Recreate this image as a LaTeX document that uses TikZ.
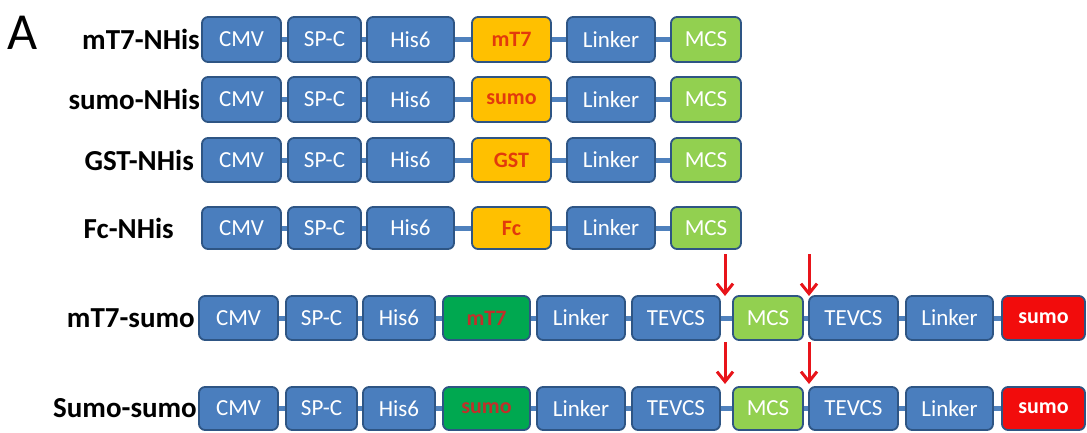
\documentclass[tikz,border=0pt]{standalone}
\usepackage{fontspec}
\setmainfont{Carlito}
\definecolor{bfill}{HTML}{4A7EBE}
\definecolor{bdraw}{HTML}{2E5584}
\definecolor{conn}{HTML}{4F81BD}
\definecolor{ofill}{HTML}{FFC000}
\definecolor{otext}{HTML}{E23A0C}
\definecolor{gfill}{HTML}{92D050}
\definecolor{dgfill}{HTML}{00A850}
\definecolor{dgtext}{HTML}{C0302A}
\definecolor{rfill}{HTML}{F20C0C}
\definecolor{arr}{HTML}{E8141A}
\tikzset{
  blk/.style={draw=bdraw, line width=1.8pt, rounded corners=6pt, inner sep=0pt,
    font=\fontsize{23}{25}\selectfont, text=white, fill=bfill},
  orng/.style={blk, fill=ofill, text=otext, font=\fontsize{22}{24}\selectfont\bfseries},
  mcs/.style={blk, fill=gfill},
  dgrn/.style={blk, fill=dgfill, text=dgtext, font=\fontsize{22}{24}\selectfont\bfseries},
  redb/.style={blk, fill=rfill, text=white, font=\fontsize{22}{24}\selectfont\bfseries},
  lbl/.style={anchor=east, inner sep=0pt, font=\fontsize{29}{31}\selectfont\bfseries},
  link/.style={draw=conn, line width=5pt},
  cut/.style={draw=arr, line width=3pt, -{Straight Barb[length=10pt,width=16pt,line width=3pt]}},
}
\usetikzlibrary{arrows.meta}
\newcommand\blkat[7]{\node[#6, minimum width={(#3)-(#2)}, minimum height={(#5)-(#4)}] (#1) at ({((#2)+(#3))/2},{((#4)+(#5))/2}) {#7};}
\newcommand\toprow[6]{%
  \blkat{#1cmv}{202}{281}{#2}{#3}{blk}{CMV}
  \blkat{#1spc}{288}{361}{#2}{#3}{blk}{SP-C}
  \blkat{#1his}{367}{454}{#2}{#3}{blk}{His6}
  \blkat{#1ins}{472}{551}{#2}{#3}{orng}{#5}
  \blkat{#1lnk}{567}{655}{#2}{#3}{blk}{Linker}
  \blkat{#1mcs}{671}{741}{#2}{#3}{mcs}{MCS}
  \node[lbl] (#1lbl) at (#6,{((#2)+(#3))/2}) {#4};
  \draw[link] (#1cmv.east) -- (#1spc.west);
  \draw[link] (#1spc.east) -- (#1his.west);
  \draw[link] (#1his.east) -- (#1ins.west);
  \draw[link] (#1ins.east) -- (#1lnk.west);
  \draw[link] (#1lnk.east) -- (#1mcs.west);
}
\newcommand\botrow[6]{%
  \blkat{#1cmv}{199}{278}{#2}{#3}{blk}{CMV}
  \blkat{#1spc}{286}{357}{#2}{#3}{blk}{SP-C}
  \blkat{#1his}{363}{435}{#2}{#3}{blk}{His6}
  \blkat{#1ins}{443}{530}{#2}{#3}{dgrn}{#5}
  \blkat{#1lnk}{537}{625}{#2}{#3}{blk}{Linker}
  \blkat{#1tva}{632}{720}{#2}{#3}{blk}{TEVCS}
  \blkat{#1mcs}{733}{803}{#2}{#3}{mcs}{MCS}
  \blkat{#1tvb}{809}{898}{#2}{#3}{blk}{TEVCS}
  \blkat{#1lkb}{906}{993}{#2}{#3}{blk}{Linker}
  \blkat{#1sum}{1002}{1085}{#2}{#3}{redb}{sumo}
  \node[lbl] (#1lbl) at (#6,{((#2)+(#3))/2}) {#4};
  \draw[link] (#1cmv.east) -- (#1spc.west);
  \draw[link] (#1spc.east) -- (#1his.west);
  \draw[link] (#1his.east) -- (#1ins.west);
  \draw[link] (#1ins.east) -- (#1lnk.west);
  \draw[link] (#1lnk.east) -- (#1tva.west);
  \draw[link] (#1tva.east) -- (#1mcs.west);
  \draw[link] (#1mcs.east) -- (#1tvb.west);
  \draw[link] (#1tvb.east) -- (#1lkb.west);
  \draw[link] (#1lkb.east) -- (#1sum.west);
}
\begin{document}
\begin{tikzpicture}[x=1pt,y=-1pt]
\useasboundingbox (0,0) rectangle (1087,432);
\node[anchor=west, inner sep=0pt, font=\fontsize{52}{54}\selectfont] (letA) at (7,33) {A};
\toprow{a}{17}{62}{mT7-NHis}{mT7}{200}
\toprow{b}{77}{122}{sumo-NHis}{sumo}{200}
\toprow{c}{138}{182}{GST-NHis}{GST}{194}
\toprow{d}{207}{249}{Fc-NHis}{Fc}{174}
\botrow{e}{296}{340}{mT7-sumo}{mT7}{195}
\botrow{f}{387}{430}{Sumo-sumo}{sumo}{197}
\coordinate (e1s) at (725,254);
\coordinate (e1t) at (725,296);
\coordinate (e2s) at (809,254);
\coordinate (e2t) at (809,296);
\coordinate (f1s) at (725,342);
\coordinate (f1t) at (725,384);
\coordinate (f2s) at (809,342);
\coordinate (f2t) at (809,384);
\draw[cut] (e1s) -- (e1t);
\draw[cut] (e2s) -- (e2t);
\draw[cut] (f1s) -- (f1t);
\draw[cut] (f2s) -- (f2t);
\end{tikzpicture}
\end{document}
